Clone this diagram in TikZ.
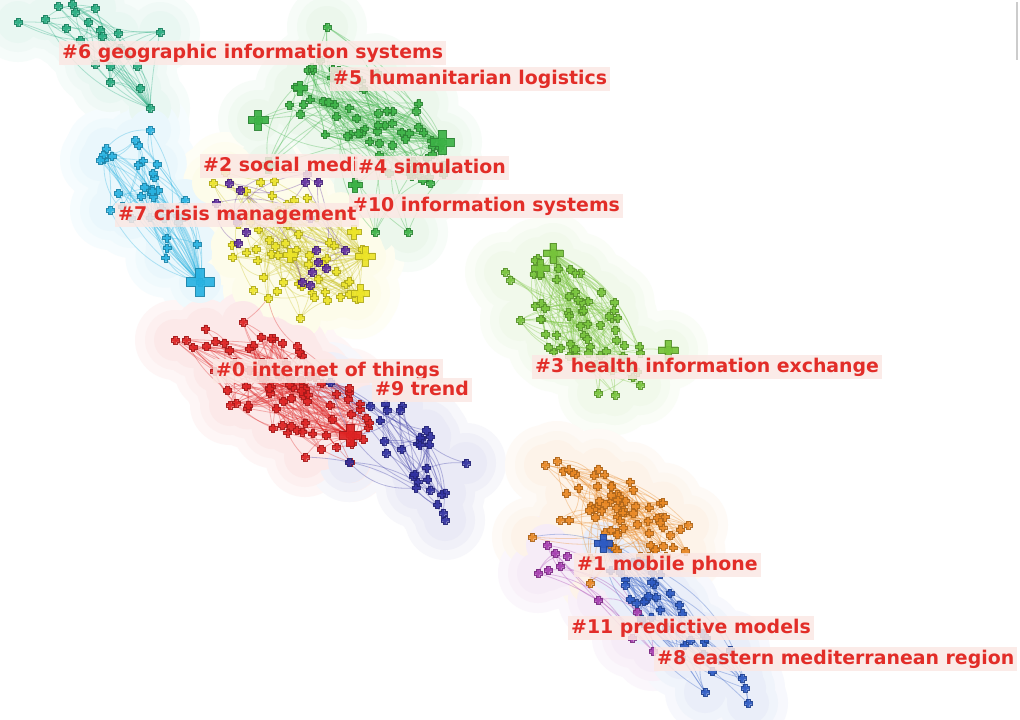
\documentclass[tikz,border=0pt]{standalone}
\usepackage{fontspec}
\newfontfamily\labfont{DejaVu Sans}
\definecolor{cTeal}{RGB}{38,172,128}
\definecolor{cGreen}{RGB}{60,178,70}
\definecolor{cPurple}{RGB}{95,45,160}
\definecolor{cYellow}{RGB}{236,228,40}
\definecolor{cCyan}{RGB}{40,178,225}
\definecolor{cRed}{RGB}{222,35,35}
\definecolor{cIndigo}{RGB}{48,48,160}
\definecolor{cLime}{RGB}{118,195,58}
\definecolor{cOrange}{RGB}{232,135,35}
\definecolor{cMag}{RGB}{165,60,175}
\definecolor{cBlue}{RGB}{45,90,195}
\definecolor{labred}{RGB}{226,45,40}
\definecolor{labbg}{RGB}{251,232,228}
% random points in a rotated ellipse: name, from, to, cx, cy, rx, ry, rot
\newcommand\mkpts[8]{%
  \foreach \i in {#2,...,#3}{%
    \pgfmathsetmacro\aa{360*rnd}%
    \pgfmathsetmacro\rr{(0.02+0.98*rnd)^0.7}%
    \pgfmathsetmacro\uu{#6*\rr*cos(\aa)}%
    \pgfmathsetmacro\vv{#7*\rr*sin(\aa)}%
    \coordinate (#1-\i) at ({#4+\uu*cos(#8)-\vv*sin(#8)},{#5+\uu*sin(#8)+\vv*cos(#8)});%
  }}
% fixed points: name, first index, list x/y
\newcommand\mkfix[3]{\foreach \px/\py [count=\c from #2] in {#3}{\coordinate (#1-\c) at (\px,\py);}}
% random links: name, n, count, colour
\newcommand\mkedges[4]{%
  \foreach \k in {1,...,#3}{%
    \pgfmathtruncatemacro\pp{min(#2,1+int(#2*rnd))}%
    \pgfmathtruncatemacro\qq{min(#2,1+int(#2*rnd))}%
    \pgfmathsetmacro\bb{70*rnd-35}%
    \ifnum\pp=\qq\else
      \draw[lnk=#4] (#1-\pp) to[bend left=\bb] (#1-\qq);
    \fi
  }}
% fan of links to a hub: name, from, to, hub index, colour
\newcommand\mkfan[5]{%
  \foreach \k in {#2,...,#3}{%
    \pgfmathsetmacro\bb{50*rnd-25}%
    \draw[lnk=#5] (#1-\k) to[bend left=\bb] (#1-#4);
  }}
% plus marker: point, arm, half width, style
\newcommand\plusat[4]{%
  \filldraw[#4] (#1) +(-#2,-#3) -- +(-#3,-#3) -- +(-#3,-#2) -- +(#3,-#2) -- +(#3,-#3) -- +(#2,-#3)
   -- +(#2,#3) -- +(#3,#3) -- +(#3,#2) -- +(-#3,#2) -- +(-#3,#3) -- +(-#2,#3) -- cycle;}
\newcommand\mkmarks[3]{\foreach \i in {1,...,#2}{\plusat{#1-\i}{4}{1.7}{mk=#3}}}
% cluster areas: name, n, colour
\newcommand\mkhalo[3]{\foreach \i in {1,...,#2}{\fill[#3!4] (#1-\i) circle (40);}}
\newcommand\mkmid[3]{\foreach \i in {1,...,#2}{\fill[#3!7] (#1-\i) circle (30);}}
\newcommand\mkcore[3]{\foreach \i in {1,...,#2}{\fill[#3!10] (#1-\i) circle (21);}}
\newcommand\allareas[1]{%
  #1{t6}{21}{cTeal}#1{g5}{69}{cGreen}#1{c7}{37}{cCyan}#1{y2}{64}{cYellow}%
  #1{r0}{84}{cRed}#1{i9}{31}{cIndigo}#1{l3}{70}{cLime}#1{o1}{78}{cOrange}%
  #1{m11}{10}{cMag}#1{b8}{40}{cBlue}}
\begin{document}
\begin{tikzpicture}[x=1pt,y=-1pt,
  lnk/.style={draw=#1,line width=0.8pt,opacity=0.32},
  mk/.style={fill=#1,draw=#1!75!black,line width=0.35pt,opacity=0.92},
  lab/.style={fill=labbg,fill opacity=0.85,text opacity=1,text=labred,
    font=\labfont\bfseries\fontsize{18.9}{20}\selectfont,
    inner xsep=3pt,inner ysep=2pt,text height=15pt,text depth=4.5pt,anchor=base west}]
\useasboundingbox (0,0) rectangle (1020,720);
\fill[white] (0,0) rectangle (1020,720);

% ---------- node positions ----------
\mkfix{t6}{1}{18/22,45/19,58/6,72/4,75/12,95/8,100/30,102/36,118/33,160/32,80/40,95/64,110/66,137/66,110/82,140/88,150/108,120/48,128/55,88/22,66/28}
\pgfmathsetseed{51}
\mkpts{g5}{1}{60}{372}{125}{95}{50}{25}
\mkfix{g5}{61}{258/120,442/142,327/27,300/88,355/185,268/165,375/232,408/232,320/60}
\mkfix{p4}{1}{240/190,232/215,229/183,305/182,307/174,318/182,310/218,246/232,238/243,216/203,316/250,318/262,326/268,312/272,310/285,302/282,345/250,237/222}
\pgfmathsetseed{22}
\mkpts{y2}{1}{55}{295}{245}{85}{55}{35}
\mkfix{y2}{56}{365/256,360/293,354/232,290/255,268/298,300/318,253/290,213/183,225/172}
\pgfmathsetseed{77}
\mkpts{c7}{1}{28}{150}{200}{75}{33}{60}
\mkfix{c7}{29}{200/282,103/155,110/210,100/160,135/140,150/130,185/200,178/222,131/218}
\pgfmathsetseed{10}
\mkpts{r0}{1}{75}{285}{390}{105}{42}{30}
\mkfix{r0}{76}{350/435,175/340,186/340,243/322,297/346,305/457,350/462,236/403,230/405}
\pgfmathsetseed{99}
\mkpts{i9}{1}{22}{415}{455}{60}{24}{60}
\mkfix{i9}{23}{330/382,400/410,386/453,466/463,445/520,443/513,349/462,370/406,430/490}
\pgfmathsetseed{33}
\mkpts{l3}{1}{60}{580}{320}{80}{42}{45}
\mkfix{l3}{61}{553/253,540/268,668/350,505/272,510/280,598/393,615/395,640/385,520/320,612/370}
\pgfmathsetseed{14}
\mkpts{o1}{1}{70}{620}{515}{75}{38}{30}
\mkfix{o1}{71}{557/461,545/465,532/537,590/583,560/520,688/525,670/535,590/558}
\mkfix{m11}{1}{547/545,555/553,567/556,538/573,548/570,560/566,637/612,632/638,653/651,598/600}
\pgfmathsetseed{88}
\mkpts{b8}{1}{30}{665}{615}{85}{25}{50}
\mkfix{b8}{31}{603/543,625/585,648/596,690/640,705/692,748/703,745/688,742/678,730/650,720/660}

% ---------- cluster areas ----------
\allareas\mkhalo
\allareas\mkmid
\allareas\mkcore

% ---------- links ----------
\pgfmathsetseed{5}
\mkedges{t6}{21}{40}{cTeal}\mkfan{t6}{1}{16}{17}{cTeal}
\mkedges{g5}{69}{170}{cGreen}\mkfan{g5}{1}{40}{62}{cGreen}
\mkedges{y2}{64}{130}{cYellow!85!black}\mkfan{y2}{1}{30}{56}{cYellow!85!black}
\mkedges{p4}{18}{22}{cPurple}
\mkedges{c7}{37}{60}{cCyan}\mkfan{c7}{1}{37}{29}{cCyan}
\mkedges{r0}{84}{190}{cRed}\mkfan{r0}{1}{40}{76}{cRed}
\mkedges{i9}{31}{55}{cIndigo}
\mkedges{l3}{70}{170}{cLime}\mkfan{l3}{1}{35}{61}{cLime}
\mkedges{o1}{78}{170}{cOrange}
\mkedges{m11}{10}{14}{cMag}
\mkedges{b8}{40}{70}{cBlue}\mkfan{b8}{1}{20}{31}{cBlue}
\draw[lnk=cRed] (y2-60) to[bend left=10] (r0-79);
\draw[lnk=cRed] (y2-60) to[bend left=-20] (r0-80);
\draw[lnk=cIndigo] (r0-81) to[bend left=20] (i9-28);
\draw[lnk=cIndigo] (r0-76) to[bend left=-25] (i9-24);
\draw[lnk=cBlue] (o1-73) to[bend left=15] (b8-31);
\draw[lnk=cMag] (m11-4) to[bend left=30] (m11-8);

% ---------- markers ----------
\mkmarks{t6}{21}{cTeal}
\mkmarks{g5}{69}{cGreen}
\mkmarks{y2}{64}{cYellow}
\mkmarks{p4}{18}{cPurple}
\mkmarks{c7}{37}{cCyan}
\mkmarks{r0}{84}{cRed}
\mkmarks{i9}{31}{cIndigo}
\mkmarks{l3}{70}{cLime}
\mkmarks{o1}{78}{cOrange}
\mkmarks{m11}{10}{cMag}
\mkmarks{b8}{40}{cBlue}
\plusat{g5-61}{10}{3.5}{mk=cGreen}
\plusat{g5-62}{12}{4}{mk=cGreen}
\plusat{g5-64}{7}{2.6}{mk=cGreen}
\plusat{g5-66}{8}{2.8}{mk=cGreen}
\plusat{g5-65}{7}{2.6}{mk=cGreen}
\plusat{y2-56}{10}{3.2}{mk=cYellow}
\plusat{y2-57}{9}{3}{mk=cYellow}
\plusat{y2-58}{7}{2.5}{mk=cYellow}
\plusat{y2-59}{7}{2.5}{mk=cYellow}
\plusat{c7-29}{14}{4.5}{mk=cCyan}
\plusat{r0-76}{11}{3.8}{mk=cRed}
\plusat{l3-61}{10}{3.3}{mk=cLime}
\plusat{l3-62}{9}{3.2}{mk=cLime}
\plusat{l3-63}{10}{3.3}{mk=cLime}
\plusat{b8-31}{9}{3.2}{mk=cBlue}

% ---------- labels ----------
\node[lab] (L6) at (59,58) {\#6 geographic information systems};
\node[lab] (L5) at (330,84) {\#5 humanitarian logistics};
\node[lab] (L2) at (200,171) {\#2 social medi};
\node[lab] (L4) at (355,173) {\#4 simulation};
\node[lab] (L10) at (349,211) {\#10 information systems};
\node[lab] (L7) at (115,220) {\#7 crisis management};
\node[lab] (L0) at (213,376) {\#0 internet of things};
\node[lab] (L9) at (372,395) {\#9 trend};
\node[lab] (L3) at (532,372) {\#3 health information exchange};
\node[lab] (L1) at (574,570) {\#1 mobile phone};
\node[lab] (L11) at (568,633) {\#11 predictive models};
\node[lab] (L8) at (654,664) {\#8 eastern mediterranean region};

% scroll bar
\draw[black!20,line width=1.5pt] (1017,2) -- (1017,60);
\end{tikzpicture}
\end{document}
